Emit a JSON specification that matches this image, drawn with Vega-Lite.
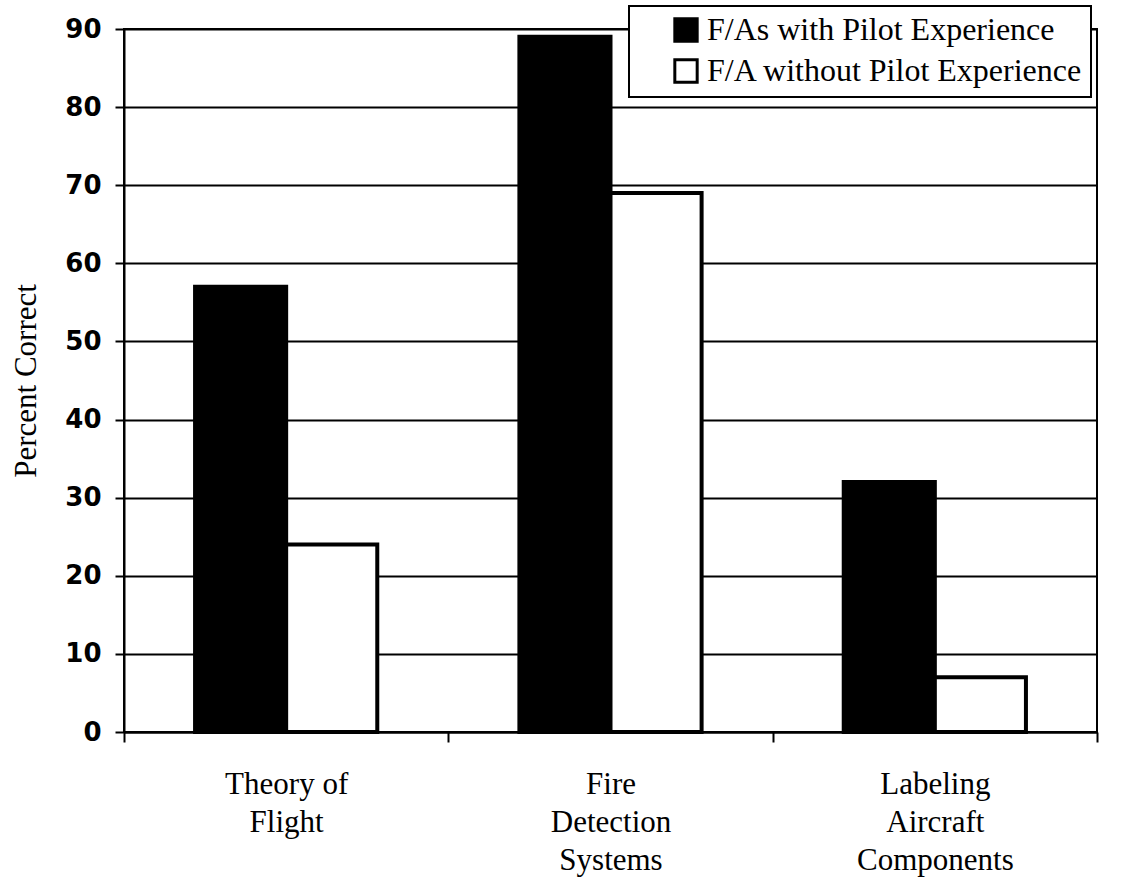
{
  "$schema": "https://vega.github.io/schema/vega-lite/v6.json",
  "autosize": "none",
  "width": 973,
  "height": 703,
  "padding": {"left": 124, "top": 29, "right": 30, "bottom": 161},
  "background": "white",
  "view": {"stroke": "black", "strokeWidth": 2},
  "data": {
    "values": [
      {"topic": "Theory of Flight", "group": "F/As with Pilot Experience", "pct": 57},
      {"topic": "Theory of Flight", "group": "F/A without Pilot Experience", "pct": 24},
      {"topic": "Fire Detection Systems", "group": "F/As with Pilot Experience", "pct": 89},
      {"topic": "Fire Detection Systems", "group": "F/A without Pilot Experience", "pct": 69},
      {"topic": "Labeling Aircraft Components", "group": "F/As with Pilot Experience", "pct": 32},
      {"topic": "Labeling Aircraft Components", "group": "F/A without Pilot Experience", "pct": 7}
    ]
  },
  "mark": {"type": "bar", "stroke": "black", "strokeWidth": 4},
  "encoding": {
    "x": {
      "field": "topic",
      "type": "nominal",
      "sort": ["Theory of Flight", "Fire Detection Systems", "Labeling Aircraft Components"],
      "scale": {"paddingInner": 0, "paddingOuter": 0},
      "axis": {
        "title": null,
        "labelAngle": 0,
        "tickBand": "extent",
        "tickSize": 10,
        "tickWidth": 2,
        "tickColor": "black",
        "domainColor": "black",
        "domainWidth": 2,
        "labelFont": "Liberation Serif, Times New Roman, DejaVu Serif, serif",
        "labelFontSize": 31,
        "labelColor": "black",
        "labelBaseline": "top",
        "labelLineHeight": 38,
        "labelPadding": 27,
        "labelExpr": "datum.label == 'Theory of Flight' ? ['Theory of', 'Flight'] : datum.label == 'Fire Detection Systems' ? ['Fire', 'Detection', 'Systems'] : datum.label == 'Labeling Aircraft Components' ? ['Labeling', 'Aircraft', 'Components'] : ''"
      }
    },
    "xOffset": {
      "field": "group",
      "type": "nominal",
      "sort": ["F/As with Pilot Experience", "F/A without Pilot Experience"],
      "scale": {"paddingInner": 0, "paddingOuter": 0.78}
    },
    "y": {
      "field": "pct",
      "type": "quantitative",
      "scale": {"domain": [0, 90]},
      "axis": {
        "title": "Percent Correct",
        "titleFont": "Liberation Serif, Times New Roman, DejaVu Serif, serif",
        "titleFontSize": 31,
        "titleFontWeight": "normal",
        "titleColor": "black",
        "titlePadding": 22,
        "values": [0, 10, 20, 30, 40, 50, 60, 70, 80, 90],
        "grid": true,
        "gridColor": "black",
        "gridWidth": 2,
        "gridOpacity": 1,
        "tickSize": 9,
        "tickWidth": 2,
        "tickColor": "black",
        "domainColor": "black",
        "domainWidth": 2,
        "labelFont": "DejaVu Sans",
        "labelFontSize": 26,
        "labelFontWeight": "bold",
        "labelColor": "black",
        "labelPadding": 14
      }
    },
    "fill": {
      "field": "group",
      "type": "nominal",
      "scale": {
        "domain": ["F/As with Pilot Experience", "F/A without Pilot Experience"],
        "range": ["black", "white"]
      },
      "legend": {
        "title": null,
        "orient": "none",
        "legendX": 505,
        "legendY": -23,
        "fillColor": "white",
        "strokeColor": "black",
        "padding": 8,
        "symbolOffset": 33,
        "symbolType": "square",
        "symbolSize": 500,
        "symbolStrokeColor": "black",
        "symbolStrokeWidth": 3,
        "symbolOpacity": 1,
        "labelFont": "Liberation Serif, Times New Roman, DejaVu Serif, serif",
        "labelFontSize": 32,
        "labelColor": "black",
        "labelLimit": 700,
        "labelOffset": 5,
        "rowPadding": 5,
        "encode": {"legend": {"update": {"strokeWidth": {"value": 2}, "width": {"value": 473}}}}
      }
    }
  }
}
